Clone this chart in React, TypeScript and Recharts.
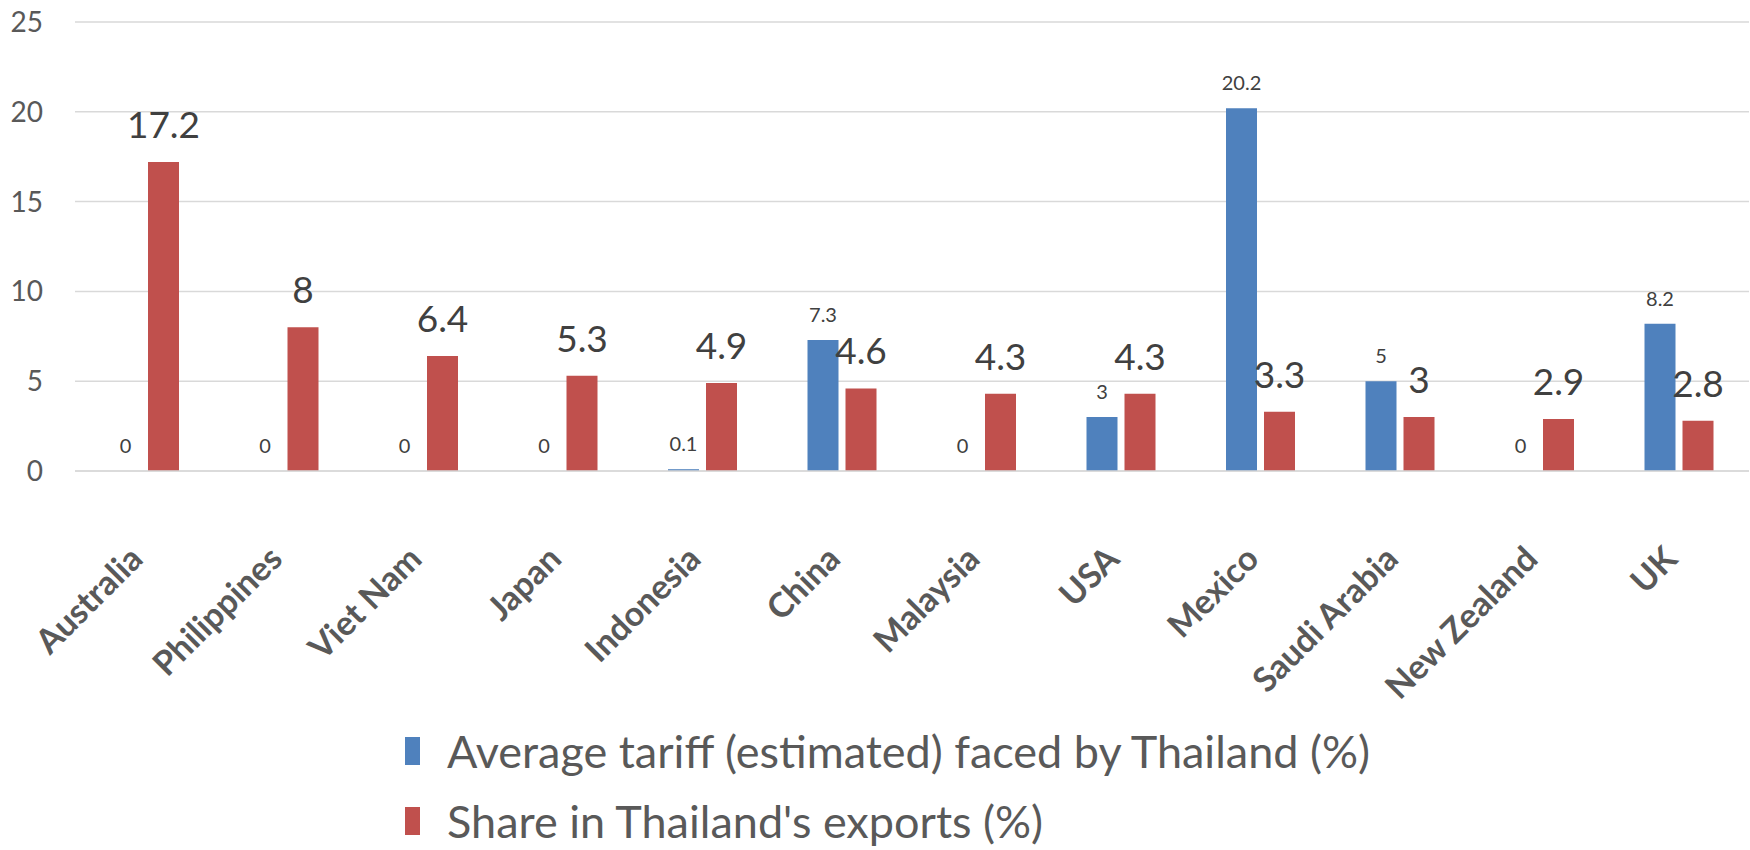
import React from "react"
import { BarChart, Bar, XAxis, YAxis, CartesianGrid, LabelList, Legend } from "recharts"

const countries = [
  "Australia",
  "Philippines",
  "Viet Nam",
  "Japan",
  "Indonesia",
  "China",
  "Malaysia",
  "USA",
  "Mexico",
  "Saudi Arabia",
  "New Zealand",
  "UK",
]
const tariff = [0, 0, 0, 0, 0.1, 7.3, 0, 3, 20.2, 5, 0, 8.2]
const exportShare = [17.2, 8, 6.4, 5.3, 4.9, 4.6, 4.3, 4.3, 3.3, 3, 2.9, 2.8]
const yTicks = [0, 5, 10, 15, 20, 25]

const TARIFF_NAME = "Average tariff (estimated) faced by Thailand (%)"
const SHARE_NAME = "Share in Thailand's exports (%)"
const BLUE = "#4f81bd"
const RED = "#c0504d"

const data = countries.map((name, i) => ({
  name,
  tariff: tariff[i],
  share: exportShare[i],
}))

// zero-height bars lose their label, so give them a hairline height and pass the text as a string
const tariffText = (d: any) => String(d.tariff)
const shareText = (d: any) => String(d.share)
const hairline = (v: any) => (v === 0 ? 0.01 : 0)

function CategoryTick(props: any) {
  const { x, y, payload } = props
  return (
    <g transform={`translate(${x},${y + 90})`}>
      <text
        x={0}
        y={0}
        textAnchor="end"
        transform="rotate(-45)"
        fill="#595959"
        fontSize={34}
        fontWeight="bold"
      >
        {payload.value}
      </text>
    </g>
  )
}

function LegendRows() {
  const rows = [
    { label: TARIFF_NAME, color: BLUE },
    { label: SHARE_NAME, color: RED },
  ]
  return (
    <div>
      {rows.map((r) => (
        <div key={r.label} style={{ display: "flex", alignItems: "center", height: 70 }}>
          <span style={{ display: "inline-block", width: 15, height: 28, background: r.color, marginRight: 27 }} />
          <span style={{ fontSize: 45, lineHeight: "42px", color: "#595959", whiteSpace: "nowrap" }}>{r.label}</span>
        </div>
      ))}
    </div>
  )
}

export default function App() {
  return (
    <div
      style={{
        position: "fixed",
        left: 0,
        top: 0,
        width: 1750,
        height: 850,
        overflow: "hidden",
        background: "#fff",
        fontFamily: "Lato, sans-serif",
      }}
    >
      <BarChart
        width={1750}
        height={850}
        data={data}
        margin={{ top: 22, right: 1, left: 0, bottom: 279 }}
        barSize={31}
        barGap={7}
      >
        <CartesianGrid vertical={false} stroke="#d9d9d9" strokeWidth={1.5} />
        <XAxis
          dataKey="name"
          height={100}
          interval={0}
          tickLine={false}
          tickSize={0}
          tickMargin={0}
          axisLine={{ stroke: "#d9d9d9", strokeWidth: 1.5 }}
          tick={<CategoryTick />}
        />
        <YAxis
          width={75}
          domain={[0, 25]}
          ticks={yTicks}
          axisLine={false}
          tickLine={false}
          tickSize={0}
          tickMargin={32}
          tick={{ fill: "#595959", fontSize: 28 }}
        />
        <Legend
          layout="horizontal"
          verticalAlign="middle"
          align="center"
          content={<LegendRows />}
          wrapperStyle={{ left: 405, top: 716, width: "auto" }}
        />
        <Bar
          dataKey="tariff"
          name={TARIFF_NAME}
          fill={BLUE}
          minPointSize={hairline}
          isAnimationActive={false}
        >
          <LabelList dataKey={tariffText} position="top" offset={18} fill="#404040" fontSize={20} />
        </Bar>
        <Bar dataKey="share" name={SHARE_NAME} fill={RED} isAnimationActive={false}>
          <LabelList dataKey={shareText} position="top" offset={24} fill="#404040" fontSize={37} />
        </Bar>
      </BarChart>
    </div>
  )
}
